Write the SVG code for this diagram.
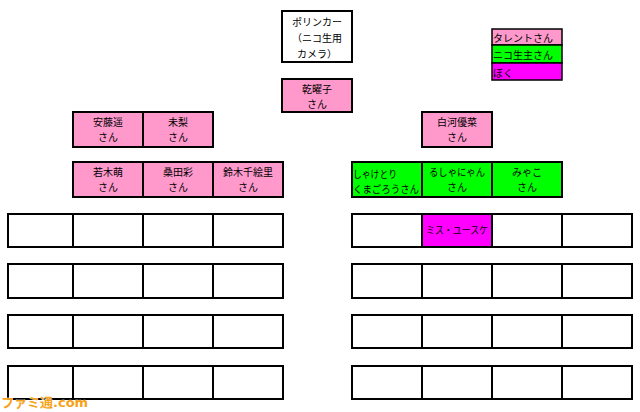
<svg xmlns="http://www.w3.org/2000/svg" width="640" height="412" viewBox="0 0 640 412">
<style>
rect{stroke:#000;stroke-width:2}
.w{fill:#fff}.p{fill:#ff99cc}.g{fill:#00ff00}.m{fill:#ff00ff}
text{font-family:"MS PGothic","Noto Sans CJK JP","Noto Sans",sans-serif;font-size:10px;fill:#000}
.c{text-anchor:middle}
.lg rect{stroke-width:1.5}
.wm{font-family:"DejaVu Sans","Noto Sans CJK JP",sans-serif;font-weight:bold;font-size:13px;fill:#f7a21b;stroke:#fff;stroke-width:0.6;paint-order:stroke}
</style>
<rect width="640" height="412" fill="#fff" style="stroke:none"/>

<g id="porinka">
<rect class="w" x="282" y="11" width="70" height="51"/>
<text class="c" x="317" y="26">ポリンカー</text>
<text class="c" x="317" y="42">（ニコ生用</text>
<text class="c" x="317" y="58">カメラ）</text>
</g>

<g id="legend" class="lg">
<rect class="p" x="492" y="29" width="70" height="16"/>
<rect class="g" x="492" y="45" width="70" height="18"/>
<rect class="m" x="492" y="63" width="70" height="17"/>
<text x="493" y="42">タレントさん</text>
<text x="493" y="59">ニコ生主さん</text>
<text x="493" y="77">ぼく</text>
</g>

<g id="inui">
<rect class="p" x="282" y="79" width="70" height="33"/>
<text class="c" x="317" y="93">乾曜子</text>
<text class="c" x="317" y="108">さん</text>
</g>

<g id="ando">
<rect class="p" x="73" y="112" width="70" height="35"/>
<text class="c" x="108" y="126">安藤遥</text>
<text class="c" x="108" y="141">さん</text>
</g>
<g id="miri">
<rect class="p" x="143" y="112" width="70" height="35"/>
<text class="c" x="178" y="126">未梨</text>
<text class="c" x="178" y="141">さん</text>
</g>
<g id="shirakawa">
<rect class="p" x="422" y="112" width="70" height="35"/>
<text class="c" x="457" y="126">白河優菜</text>
<text class="c" x="457" y="141">さん</text>
</g>

<g id="wakagi">
<rect class="p" x="73" y="162" width="70" height="35"/>
<text class="c" x="108" y="176">若木萌</text>
<text class="c" x="108" y="191">さん</text>
</g>
<g id="kuwata">
<rect class="p" x="143" y="162" width="70" height="35"/>
<text class="c" x="178" y="176">桑田彩</text>
<text class="c" x="178" y="191">さん</text>
</g>
<g id="suzuki">
<rect class="p" x="213" y="162" width="70" height="35"/>
<text class="c" x="248" y="176">鈴木千絵里</text>
<text class="c" x="248" y="191">さん</text>
</g>

<g id="shaketori">
<rect class="g" x="352" y="162" width="70" height="35"/>
<text x="353" y="178" textLength="44" lengthAdjust="spacingAndGlyphs">しゃけとり</text>
<text x="353" y="193" textLength="66" lengthAdjust="spacingAndGlyphs">くまごろうさん</text>
</g>
<g id="rushanyan">
<rect class="g" x="422" y="162" width="70" height="35"/>
<text class="c" x="457" y="176" textLength="56" lengthAdjust="spacingAndGlyphs">るしゃにゃん</text>
<text class="c" x="457" y="191">さん</text>
</g>
<g id="miyako">
<rect class="g" x="492" y="162" width="70" height="35"/>
<text class="c" x="527" y="176">みゃこ</text>
<text class="c" x="527" y="191">さん</text>
</g>

<g id="left-seats">
<rect class="w" x="8" y="214" width="65" height="33"/><rect class="w" x="73" y="214" width="70" height="33"/><rect class="w" x="143" y="214" width="70" height="33"/><rect class="w" x="213" y="214" width="70" height="33"/>
<rect class="w" x="8" y="264" width="65" height="34"/><rect class="w" x="73" y="264" width="70" height="34"/><rect class="w" x="143" y="264" width="70" height="34"/><rect class="w" x="213" y="264" width="70" height="34"/>
<rect class="w" x="8" y="315" width="65" height="33"/><rect class="w" x="73" y="315" width="70" height="33"/><rect class="w" x="143" y="315" width="70" height="33"/><rect class="w" x="213" y="315" width="70" height="33"/>
<rect class="w" x="8" y="366" width="65" height="33"/><rect class="w" x="73" y="366" width="70" height="33"/><rect class="w" x="143" y="366" width="70" height="33"/><rect class="w" x="213" y="366" width="70" height="33"/>
</g>

<g id="right-seats">
<rect class="w" x="352" y="214" width="70" height="33"/><rect class="w" x="492" y="214" width="70" height="33"/><rect class="w" x="562" y="214" width="70" height="33"/>
<rect class="w" x="352" y="264" width="70" height="34"/><rect class="w" x="422" y="264" width="70" height="34"/><rect class="w" x="492" y="264" width="70" height="34"/><rect class="w" x="562" y="264" width="70" height="34"/>
<rect class="w" x="352" y="315" width="70" height="33"/><rect class="w" x="422" y="315" width="70" height="33"/><rect class="w" x="492" y="315" width="70" height="33"/><rect class="w" x="562" y="315" width="70" height="33"/>
<rect class="w" x="352" y="366" width="70" height="33"/><rect class="w" x="422" y="366" width="70" height="33"/><rect class="w" x="492" y="366" width="70" height="33"/><rect class="w" x="562" y="366" width="70" height="33"/>
</g>

<g id="misu-yusuke">
<rect class="m" x="422" y="214" width="70" height="33"/>
<text class="c" x="457" y="234" textLength="62" lengthAdjust="spacingAndGlyphs">ミス・ユースケ</text>
</g>

<g id="connectors"></g>

<text class="wm" x="1" y="407">ファミ通.com</text>
</svg>
